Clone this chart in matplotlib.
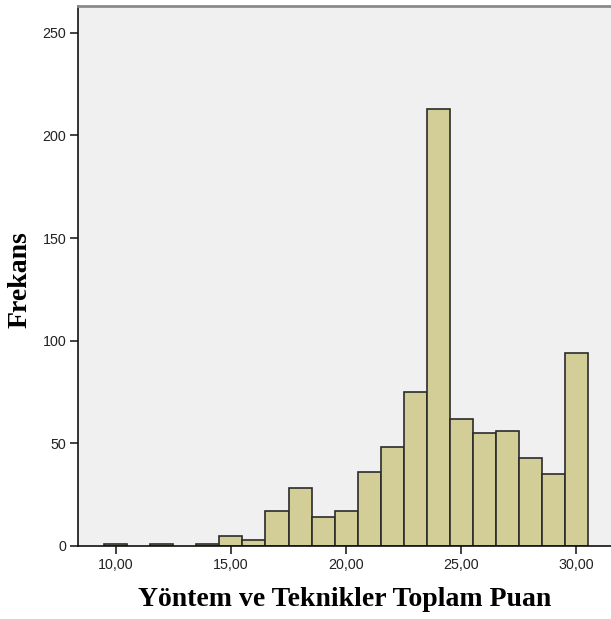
import matplotlib
matplotlib.use("Agg")
import matplotlib.pyplot as plt

# score values (bin centres) and their frequencies
puan = [10, 12, 14, 15, 16, 17, 18, 19, 20, 21, 22, 23, 24, 25, 26, 27, 28, 29, 30]
frekans = [1, 1, 1, 5, 3, 17, 28, 14, 17, 36, 48, 75, 213, 62, 55, 56, 43, 35, 94]

xticks = [10, 15, 20, 25, 30]
yticks = [0, 50, 100, 150, 200, 250]

fig = plt.figure(figsize=(6.11, 6.19), dpi=100)
ax = fig.add_axes([0.1277, 0.118, 0.8723, 0.872])
ax.set_facecolor("#f0f0f0")

ax.bar(puan, frekans, width=1.0, color="#d3ce97", edgecolor="#2b2b2b", linewidth=1.2)

ax.set_xlim(8.35, 31.52)
ax.set_ylim(0, 263)
ax.set_xticks(xticks)
ax.set_xticklabels([f"{t:.2f}".replace(".", ",") for t in xticks])
ax.set_yticks(yticks)
ax.tick_params(direction="out", length=6, width=1.2, color="#222222",
               labelsize=10.3, labelcolor="#222222", pad=2.5)
for lab in ax.get_xticklabels() + ax.get_yticklabels():
    lab.set_family("Liberation Sans")

ax.spines["left"].set_color("#111111")
ax.spines["bottom"].set_color("#111111")
ax.spines["left"].set_linewidth(1.2)
ax.spines["bottom"].set_linewidth(1.2)
ax.spines["top"].set_color("#8a8a8a")
ax.spines["top"].set_linewidth(2)
ax.spines["right"].set_visible(False)

ax.set_xlabel("Yöntem ve Teknikler Toplam Puan", family="Liberation Serif",
              fontweight="bold", fontsize=20, labelpad=11)
ax.set_ylabel("Frekans", family="Liberation Serif", fontweight="bold",
              fontsize=20, labelpad=7)
ax.yaxis.label.set_y(0.494)

fig.savefig("out.png", dpi=100)
